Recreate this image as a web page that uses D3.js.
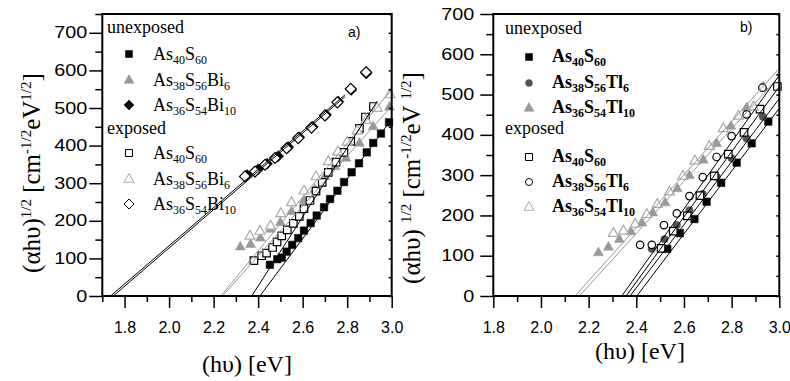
<!DOCTYPE html>
<html>
<head>
<meta charset="utf-8">
<script src="https://cdn.jsdelivr.net/npm/d3@7"></script>
<style>
  body { margin: 0; background: #fff; }
  svg { display: block; }
  text { white-space: pre; }
</style>
</head>
<body>
<svg id="chart" width="790" height="381"></svg>
<script>
// ---------- data: panel a) As-S-Bi ----------
// [photon energy eV, (alpha h nu)^1/2]
const aUnexAs40S60 = [[2.453, 83], [2.486, 98], [2.506, 102], [2.528, 118], [2.553, 136], [2.580, 154],
  [2.606, 174], [2.636, 194], [2.663, 214], [2.696, 236], [2.723, 258], [2.756, 280], [2.786, 303],
  [2.820, 329], [2.853, 353], [2.888, 382], [2.917, 407], [2.952, 432], [2.988, 462]];
const aUnexBi6 = [[2.320, 131], [2.366, 138], [2.410, 155], [2.455, 178], [2.500, 196], [2.550, 225],
  [2.606, 254], [2.655, 284], [2.700, 318], [2.745, 345], [2.795, 367], [2.855, 407], [2.917, 451], [2.990, 503]];
const aUnexBi10 = [[2.350, 322], [2.400, 337], [2.440, 352], [2.490, 372], [2.535, 396], [2.585, 422],
  [2.645, 450], [2.705, 482], [2.760, 517], [2.818, 548], [2.886, 592]];
const aExpAs40S60 = [[2.381, 94], [2.416, 107], [2.438, 114], [2.465, 129], [2.485, 144], [2.506, 160],
  [2.531, 176], [2.558, 193], [2.585, 212], [2.606, 232], [2.633, 254], [2.660, 279], [2.688, 302],
  [2.715, 329], [2.750, 356], [2.785, 382], [2.816, 411], [2.855, 446], [2.882, 476], [2.918, 504]];
const aExpBi6 = [[2.363, 160], [2.408, 173], [2.456, 187], [2.502, 220], [2.550, 249], [2.606, 280],
  [2.660, 318], [2.715, 358], [2.758, 384], [2.800, 410], [2.845, 440], [2.885, 468], [2.935, 500], [2.992, 536]];
const aExpBi10 = [[2.341, 318], [2.386, 331], [2.431, 349], [2.476, 367], [2.528, 393], [2.580, 420],
  [2.640, 448], [2.700, 480], [2.756, 515], [2.816, 551], [2.885, 595]];
// linear fits [x0, y0, x1, y1]
const aFitsBlack = [[1.737, 0, 2.79, 535], [1.749, 0, 2.79, 530], [2.371, 0, 2.935, 518], [2.408, 0, 3.0, 470]];
const aFitsGray = [[2.232, 0, 3.0, 549], [2.240, 0, 3.0, 505]];

// ---------- data: panel b) As-S-Tl ----------
const bUnexAs40S60 = [[2.530, 117], [2.583, 156], [2.644, 191], [2.695, 234], [2.756, 281], [2.821, 331],
  [2.884, 379], [2.954, 433]];
const bUnexTl6 = [[2.465, 117], [2.518, 141], [2.570, 176], [2.623, 213], [2.679, 253], [2.737, 296],
  [2.800, 342], [2.863, 391], [2.931, 445]];
const bUnexTl10 = [[2.241, 108], [2.283, 122], [2.329, 141], [2.377, 160], [2.423, 182], [2.469, 207],
  [2.521, 232], [2.572, 267], [2.623, 300], [2.681, 338], [2.737, 379], [2.797, 422], [2.863, 468], [2.933, 520]];
const bExpAs40S60 = [[2.504, 118], [2.555, 161], [2.614, 199], [2.667, 249], [2.727, 298], [2.786, 352],
  [2.852, 406], [2.919, 464], [2.992, 520]];
const bExpTl6 = [[2.416, 127], [2.465, 127], [2.516, 176], [2.570, 205], [2.623, 248], [2.679, 295],
  [2.737, 345], [2.800, 397], [2.863, 451], [2.929, 517]];
const bExpTl10 = [[2.304, 156], [2.346, 162], [2.395, 179], [2.444, 203], [2.488, 228], [2.539, 259],
  [2.595, 298], [2.646, 336], [2.706, 372], [2.765, 416], [2.828, 447], [2.891, 470]];
const bFitsBlack = [[2.339, 0, 3.0, 548], [2.357, 0, 3.0, 520], [2.374, 0, 3.0, 490], [2.402, 0, 3.0, 466]];
const bFitsGray = [[2.143, 0, 3.0, 565], [2.161, 0, 3.0, 545]];

// ---------- ticks and labels ----------
const xTicks = [1.8, 2.0, 2.2, 2.4, 2.6, 2.8, 3.0];
const xMinorA = [1.7, 1.9, 2.1, 2.3, 2.5, 2.7, 2.9];
const xMinorB = [1.9, 2.1, 2.3, 2.5, 2.7, 2.9];
const yTicks = [0, 100, 200, 300, 400, 500, 600, 700];
const yMinorA = [50, 150, 250, 350, 450, 550, 650, 750];
const yMinorB = [50, 150, 250, 350, 450, 550, 650];
const legendA = ['As_{40}S_{60}', 'As_{38}S_{56}Bi_{6}', 'As_{36}S_{54}Bi_{10}'];
const legendB = ['As_{40}S_{60}', 'As_{38}S_{56}Tl_{6}', 'As_{36}S_{54}Tl_{10}'];

const SERIF = "'Liberation Serif', serif";
const SANS = "'Liberation Sans', sans-serif";
const svg = d3.select('#chart');

// marker outlines centred on 0,0
function shapePath(shape, s) {
  const h = s / 2;
  switch (shape) {
    case 'square': return `M${-h},${-h}H${h}V${h}H${-h}Z`;
    case 'diamond': return `M0,${-h}L${h},0L0,${h}L${-h},0Z`;
    case 'triangle': return `M0,${-s * 0.55}L${h},${s * 0.33}L${-h},${s * 0.33}Z`;
    default: return `M${-h},0A${h},${h} 0 1,0 ${h},0A${h},${h} 0 1,0 ${-h},0Z`;
  }
}

// text with _{sub} and ^{sup} parts
function richText(sel, str, size, small, sub, sup) {
  const re = /([_^])\{([^}]*)\}|([^_^]+)/g;
  let m, cur = 0;
  while ((m = re.exec(str))) {
    const shift = m[3] ? 0 : (m[1] === '_' ? sub : -sup);
    sel.append('tspan')
      .attr('dy', shift - cur)
      .attr('font-size', shift ? small : size)
      .text(m[3] || m[2]);
    cur = shift;
  }
}

function drawPanel(p) {
  const x = d3.scaleLinear().domain(p.xDomain).range([p.left, p.right]);
  const y = d3.scaleLinear().domain(p.yDomain).range([p.bottom, p.top]);
  const g = svg.append('g');

  // data markers (filled first, open ones white-filled on top)
  p.series.forEach(s => {
    g.append('g').selectAll('path').data(s.data).join('path')
      .attr('transform', d => `translate(${x(d[0])},${y(d[1])})`)
      .attr('d', shapePath(s.shape, s.size))
      .attr('fill', s.open ? '#fff' : s.color)
      .attr('stroke', s.color)
      .attr('stroke-width', s.open ? 1.2 : 0.5);
  });

  // fitted lines
  p.fits.forEach(f => {
    g.append('g').selectAll('line').data(f.data).join('line')
      .attr('x1', d => x(d[0])).attr('y1', d => y(d[1]))
      .attr('x2', d => x(d[2])).attr('y2', d => y(d[3]))
      .attr('stroke', f.color).attr('stroke-width', 1);
  });

  // axes
  g.append('g').attr('transform', `translate(0,${p.bottom})`)
    .call(d3.axisBottom(x).tickValues(xTicks).tickSize(12).tickPadding(14).tickFormat(d3.format('.1f')));
  g.append('g').attr('transform', `translate(0,${p.bottom})`)
    .call(d3.axisBottom(x).tickValues(p.xMinor).tickSize(6).tickFormat(''));
  g.append('g').attr('transform', `translate(${p.left},0)`).attr('class', 'yax')
    .call(d3.axisLeft(y).tickValues(yTicks).tickSize(13).tickPadding(p.yPad));
  g.append('g').attr('transform', `translate(${p.left},0)`)
    .call(d3.axisLeft(y).tickValues(p.yMinor).tickSize(7).tickFormat(''));
  g.append('g').attr('transform', `translate(${p.right},0)`)
    .call(d3.axisRight(y).tickValues(yTicks.concat(p.yMinor)).tickSize(-3).tickFormat(''));
  g.selectAll('.domain').remove();
  g.selectAll('.tick line').attr('stroke', '#000').attr('stroke-width', 1.5);
  g.selectAll('.tick text').attr('fill', '#000').attr('font-family', SANS).attr('font-size', 16);
  // y tick labels are drawn a little wider than the x ones
  g.selectAll('.yax .tick text')
    .attr('textLength', d => String(d).length * 11)
    .attr('lengthAdjust', 'spacingAndGlyphs');

  g.append('rect')
    .attr('x', p.left).attr('y', p.top)
    .attr('width', p.right - p.left).attr('height', p.bottom - p.top)
    .attr('fill', 'none').attr('stroke', '#000').attr('stroke-width', 2);

  // axis titles
  g.append('text')
    .attr('x', p.xTitle[0]).attr('y', p.xTitle[1])
    .attr('text-anchor', 'middle')
    .attr('font-family', SERIF).attr('font-size', 24)
    .text('(h\u03C5) [eV]');
  const yt = g.append('text')
    .attr('transform', `translate(${p.yTitle[0]},${p.yTitle[1]}) rotate(-90)`)
    .attr('text-anchor', 'middle')
    .attr('font-family', SERIF).attr('font-size', 25);
  richText(yt, p.yTitleText, 25, 15, 0, 9);

  // panel tag
  g.append('text')
    .attr('x', p.tag[0]).attr('y', p.tag[1])
    .attr('font-family', SANS).attr('font-size', 14)
    .text(p.tagText);

  // legend
  const lg = g.append('g').attr('font-family', SERIF);
  p.legendRows.forEach(r => {
    if (r.header) {
      lg.append('text').attr('x', p.legX[0]).attr('y', r.y)
        .attr('font-size', 18).text(r.header);
      return;
    }
    const s = p.series[r.series];
    lg.append('path')
      .attr('transform', `translate(${p.legX[1]},${r.y - p.markerLift})`)
      .attr('d', shapePath(s.shape, s.legSize))
      .attr('fill', s.open ? '#fff' : s.color)
      .attr('stroke', s.color)
      .attr('stroke-width', s.open ? 1 : 0.5);
    const t = lg.append('text').attr('x', p.legX[2]).attr('y', r.y)
      .attr('font-weight', p.bold ? 'bold' : 'normal');
    richText(t, r.label, 18, 12, 4, 0);
  });
}

// ---------- panel a ----------
drawPanel({
  left: 102.3, right: 391.7, top: 14, bottom: 296,
  xDomain: [1.7, 3.0], yDomain: [0, 750],
  xMinor: xMinorA, yMinor: yMinorA, yPad: 2,
  series: [
    { data: aUnexAs40S60, shape: 'square', size: 7.5, legSize: 7, color: '#000' },
    { data: aUnexBi6, shape: 'triangle', size: 10, legSize: 10, color: '#999' },
    { data: aUnexBi10, shape: 'diamond', size: 11, legSize: 10, color: '#000' },
    { data: aExpAs40S60, shape: 'square', size: 7.5, legSize: 7, color: '#000', open: true },
    { data: aExpBi6, shape: 'triangle', size: 10, legSize: 10, color: '#aaa', open: true },
    { data: aExpBi10, shape: 'diamond', size: 11, legSize: 10, color: '#000', open: true }
  ],
  fits: [{ data: aFitsGray, color: '#999' }, { data: aFitsBlack, color: '#000' }],
  xTitle: [247, 372], yTitle: [40, 173],
  yTitleText: '(\u03B1h\u03C5)^{1/2} [cm^{-1/2}eV^{1/2}]',
  tag: [348, 37], tagText: 'a)',
  legX: [107, 129, 153], markerLift: 6, bold: false,
  legendRows: [
    { header: 'unexposed', y: 33 },
    { series: 0, label: legendA[0], y: 60 },
    { series: 1, label: legendA[1], y: 86 },
    { series: 2, label: legendA[2], y: 111 },
    { header: 'exposed', y: 134 },
    { series: 3, label: legendA[0], y: 159 },
    { series: 4, label: legendA[1], y: 185 },
    { series: 5, label: legendA[2], y: 210 }
  ]
});

// ---------- panel b ----------
drawPanel({
  left: 493.3, right: 779.3, top: 14, bottom: 296,
  xDomain: [1.8, 3.0], yDomain: [0, 700],
  xMinor: xMinorB, yMinor: yMinorB, yPad: 6,
  series: [
    { data: bUnexAs40S60, shape: 'square', size: 7.5, legSize: 7, color: '#000' },
    { data: bUnexTl6, shape: 'circle', size: 7.5, legSize: 7, color: '#555' },
    { data: bUnexTl10, shape: 'triangle', size: 10, legSize: 10, color: '#999' },
    { data: bExpAs40S60, shape: 'square', size: 7.5, legSize: 7, color: '#000', open: true },
    { data: bExpTl6, shape: 'circle', size: 7.5, legSize: 7, color: '#000', open: true },
    { data: bExpTl10, shape: 'triangle', size: 10, legSize: 10, color: '#aaa', open: true }
  ],
  fits: [{ data: bFitsGray, color: '#999' }, { data: bFitsBlack, color: '#000' }],
  xTitle: [640, 359], yTitle: [420, 178],
  yTitleText: '(\u03B1h\u03C5) ^{1/2} [cm^{-1/2}eV ^{1/2}]',
  tag: [740, 32], tagText: 'b)',
  legX: [505, 529, 552], markerLift: 5, bold: true,
  legendRows: [
    { header: 'unexposed', y: 34 },
    { series: 0, label: legendB[0], y: 62 },
    { series: 1, label: legendB[1], y: 88 },
    { series: 2, label: legendB[2], y: 113 },
    { header: 'exposed', y: 134 },
    { series: 3, label: legendB[0], y: 162 },
    { series: 4, label: legendB[1], y: 187 },
    { series: 5, label: legendB[2], y: 212 }
  ]
});
</script>
</body>
</html>
